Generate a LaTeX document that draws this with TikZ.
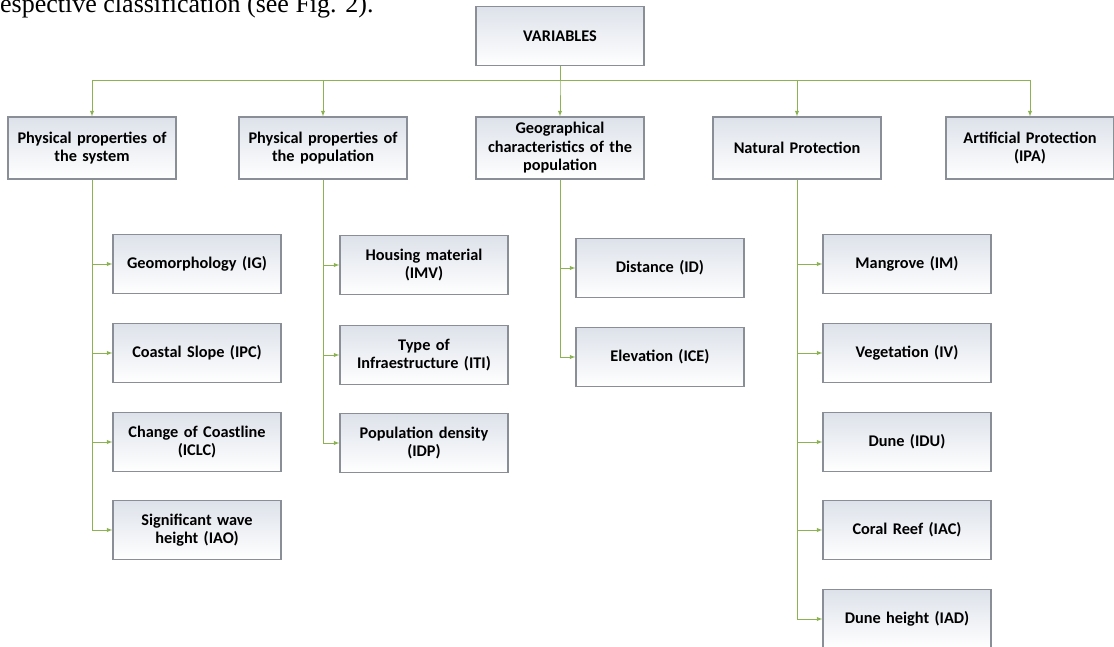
\documentclass[tikz,border=0pt]{standalone}
\usepackage{fontspec}
\setmainfont{Carlito}
\newfontfamily\paperfont{Liberation Serif}
\definecolor{linkgreen}{RGB}{140,178,84}
\definecolor{boxedge}{RGB}{138,143,151}
\definecolor{boxtop}{RGB}{221,226,234}
\usetikzlibrary{arrows, positioning}

\begin{document}
\begin{tikzpicture}[x=1pt, y=-1pt,
    box/.style = {rectangle, draw = boxedge, line width = 1.1pt, top color = boxtop, bottom color = white,
                  minimum width = 168pt, minimum height = 59pt, text width = 160pt, align = center,
                  inner sep = 2pt, font = \fontsize{16.3}{18.5}\selectfont\bfseries},
    link/.style = {draw = linkgreen, line width = 0.9pt, ->, >=latex}]
    \useasboundingbox (0,0) rectangle (1114,647);

    % text of the page above the figure
    \node [anchor = base west, inner sep = 0pt, font = \paperfont\fontsize{26}{30}\selectfont] (caption) at (0,13) {espective classification (see Fig. 2).};

    %% root and first level
    \node [box] (var) at (560,36) {VARIABLES};
    \node [box, minimum height = 62pt] (sys) at (92,148) {Physical properties of\\the system};
    \node [box, minimum height = 62pt] (pop) at (323,148) {Physical properties of\\the population};
    \node [box, minimum height = 62pt] (geo) at (560,148) {Geographical\\characteristics of the\\population};
    \node [box, minimum height = 62pt] (nat) at (797,148) {Natural Protection};
    \node [box, minimum height = 62pt] (art) at (1030,148) {Artificial Protection\\(IPA)};

    \foreach \head in {sys,pop,geo,nat,art}
    {
        \draw[link] (var.south) -- ++(0,14) -| (\head.north);
    }

    %%%%%%%%%%%%%%%%%%%%%%%%%%%%%%%%

    %% second level
    \node [box] (ig) at (197,264) {Geomorphology (IG)};
    \node [box] (ipc) at (197,353) {Coastal Slope (IPC)};
    \node [box] (iclc) at (197,442) {Change of Coastline\\(ICLC)};
    \node [box] (iao) at (197,530) {Significant wave\\height (IAO)};

    \node [box] (imv) at (424,265) {Housing material\\(IMV)};
    \node [box] (iti) at (424,355) {Type of\\Infraestructure (ITI)};
    \node [box] (idp) at (424,443) {Population density\\(IDP)};

    \node [box] (id) at (660,268) {Distance (ID)};
    \node [box] (ice) at (660,357) {Elevation (ICE)};

    \node [box] (im) at (907,264) {Mangrove (IM)};
    \node [box] (iv) at (907,353) {Vegetation (IV)};
    \node [box] (idu) at (907,442) {Dune (IDU)};
    \node [box] (iac) at (907,530) {Coral Reef (IAC)};
    \node [box] (iad) at (907,619) {Dune height (IAD)};

    \foreach \kid in {ig,ipc,iclc,iao}
        \draw[link] (sys.south) |- (\kid.west);
    \foreach \kid in {imv,iti,idp}
        \draw[link] (pop.south) |- (\kid.west);
    \foreach \kid in {id,ice}
        \draw[link] (geo.south) |- (\kid.west);
    \foreach \kid in {im,iv,idu,iac,iad}
        \draw[link] (nat.south) |- (\kid.west);

\end{tikzpicture}
\end{document}
